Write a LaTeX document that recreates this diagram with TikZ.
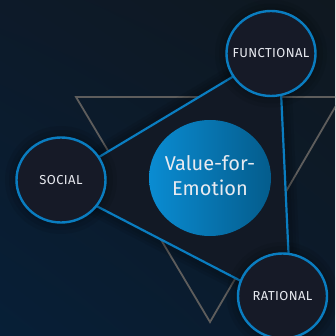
\documentclass[tikz,border=0pt]{standalone}
\usepackage{fontspec}
\setmainfont{Fira Sans}
\newfontfamily\orblabelfont[LetterSpace=3]{Fira Sans}
\usetikzlibrary{shapes.geometric,shadings}

\definecolor{bgTL}{HTML}{0D1A29}
\definecolor{bgTR}{HTML}{0F1820}
\definecolor{bgBL}{HTML}{071F37}
\definecolor{bgBR}{HTML}{0B1B2C}
\definecolor{frameGrey}{HTML}{5E5D5C}
\definecolor{linkBlue}{HTML}{0A7DC0}
\definecolor{hubFill}{HTML}{121925}
\definecolor{orbFill}{HTML}{161A27}
\definecolor{coreL}{HTML}{0A8CD2}
\definecolor{coreR}{HTML}{045C8C}
\definecolor{labelInk}{HTML}{E8EAF0}

% zero-width wrapper so the text never stretches the round shapes
\newcommand{\flatlabel}[1]{\makebox[0pt]{#1}}

\tikzset{
  orb/.style={ellipse, draw=linkBlue, line width=2.4pt, fill=orbFill,
    minimum width=89pt, minimum height=85pt, inner sep=0pt,
    text=labelInk, font=\orblabelfont\fontsize{13}{15}\selectfont},
  core/.style={ellipse, minimum width=122pt, minimum height=116pt, inner sep=0pt,
    left color=coreL, right color=coreR, text=labelInk,
    font=\fontsize{20}{24.5}\selectfont},
  haze/.style={black, opacity=0.08}
}

\begin{document}
\begin{tikzpicture}[x=1pt, y=-1pt]
  \useasboundingbox (0,0) rectangle (335,336);
  \clip (0,0) rectangle (335,336);

  % backdrop
  \shade[upper left=bgTL, upper right=bgTR, lower left=bgBL, lower right=bgBR]
    (0,0) rectangle (335,336);

  % inverted grey triangle behind everything
  \coordinate (gA) at (76,97);
  \coordinate (gB) at (341,97);
  \coordinate (gC) at (210,322);
  \draw[frameGrey, line width=1.8pt, line join=miter] (gA) -- (gB) -- (gC) -- cycle;

  % corners of the linking triangle
  \coordinate (tS) at (54,184);
  \coordinate (tF) at (279,49);
  \coordinate (tR) at (291,307);

  % soft halo around the linking triangle
  \foreach \w in {22,16,10} {
    \draw[haze, line width=\w pt, line join=round] (tS) -- (tF) -- (tR) -- cycle;
  }
  \fill[hubFill] (tS) -- (tF) -- (tR) -- cycle;
  \draw[linkBlue, line width=2.2pt, line join=round] (tS) -- (tF) -- (tR) -- cycle;

  % halos under the orbs
  \foreach \p in {(61,180),(271,53.5),(282.5,296)} {
    \foreach \r in {56,52,48} {
      \fill[haze] \p ellipse [x radius=\r pt, y radius=\r pt-2pt];
    }
  }

  % central hub
  \node[core] (hub) at (210,178)
    {\flatlabel{\begin{tabular}{@{}c@{}}Value-for-\\Emotion\end{tabular}}};

  % value dimensions
  \node[orb] (functional) at (271,53.5) {\flatlabel{FUNCTIONAL}};
  \node[orb] (social) at (61,180) {\flatlabel{SOCIAL}};
  \node[orb] (rational) at (282.5,296) {\flatlabel{RATIONAL}};
\end{tikzpicture}
\end{document}
